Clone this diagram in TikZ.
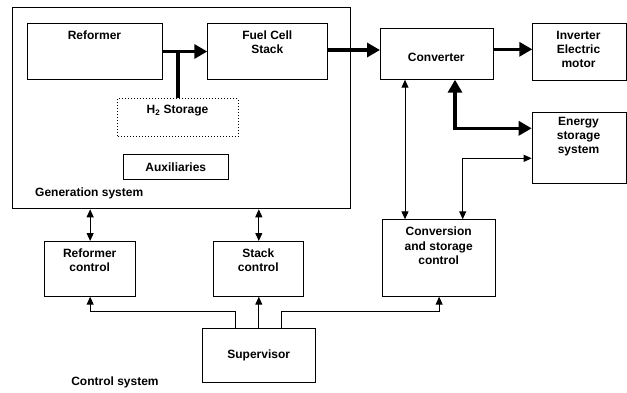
\documentclass[tikz,border=0pt]{standalone}
\usepackage{fontspec}
\setmainfont{Liberation Sans}
\usetikzlibrary{arrows.meta}
\tikzset{
  box/.style={draw, line width=1pt, inner sep=0pt, anchor=north west},
  dotbox/.style={draw, dotted, line width=1pt, inner sep=0pt, anchor=north west},
  txt/.style={inner sep=0pt, align=center, font=\fontsize{12}{14.3}\selectfont\bfseries},
  sigboth/.style={line width=1pt, {Triangle[length=8pt,width=7pt]}-{Triangle[length=8pt,width=7pt]}},
  sigto/.style={line width=1pt, -{Triangle[length=8pt,width=7pt]}},
  fat/.style={line width=3.2pt, -{Triangle[length=13pt,width=14pt]}},
  fatd/.style={line width=3.2pt, {Triangle[length=13pt,width=14pt]}-{Triangle[length=13pt,width=14pt]}},
}
\begin{document}
\begin{tikzpicture}[x=1pt,y=-1pt]
\useasboundingbox (0,0) rectangle (627,392);
% generation system
\node[box, minimum width=338pt, minimum height=201.5pt] (gen) at (12.3,6.8) {};
\node[box, minimum width=135.6pt, minimum height=55.4pt] (ref) at (26.7,23.3) {};
\node[box, minimum width=120pt, minimum height=55.4pt] (fcs) at (207.3,23.3) {};
\node[dotbox, minimum width=120.4pt, minimum height=37.7pt] (h2) at (117.3,98.3) {};
\node[box, minimum width=105pt, minimum height=25pt] (aux) at (123.3,154.3) {};
\node[txt] (ref-t) at (94.5,35) {Reformer};
\node[txt] (fcs-t) at (267.3,42.2) {Fuel Cell\\Stack};
\node[txt] (h2-t) at (177.5,110.5) {H\textsubscript{2} Storage};
\node[txt] (aux-t) at (175.8,166.8) {Auxiliaries};
\node[txt, anchor=west] (gen-t) at (35,193.5) {Generation system};
% power side
\node[box, minimum width=112.7pt, minimum height=50.4pt] (conv) at (380,28.3) {};
\node[box, minimum width=94pt, minimum height=56.7pt] (inv) at (532.3,23.3) {};
\node[box, minimum width=94.3pt, minimum height=71.6pt] (es) at (531.7,111.7) {};
\node[txt] (conv-t) at (436.3,57.3) {Converter};
\node[txt] (inv-t) at (578.5,49.3) {Inverter\\Electric\\motor};
\node[txt] (es-t) at (578.5,136.8) {Energy\\storage\\system};
% control
\node[box, minimum width=90.7pt, minimum height=54.7pt] (rc) at (44.3,241) {};
\node[box, minimum width=90pt, minimum height=54.7pt] (sc) at (213.3,241) {};
\node[box, minimum width=112.7pt, minimum height=76.4pt] (csc) at (382.3,219.3) {};
\node[box, minimum width=112.7pt, minimum height=54.6pt] (sup) at (202.3,327.7) {};
\node[txt] (rc-t) at (89.7,260) {Reformer\\control};
\node[txt] (sc-t) at (258.3,260) {Stack\\control};
\node[txt] (csc-t) at (438.7,246) {Conversion\\and storage\\control};
\node[txt] (sup-t) at (258.7,355.7) {Supervisor};
\node[txt] (ctl-t) at (115,382.7) {Control system};
% thick power flows
\draw[fat] (ref.east) -- (fcs.west);
\draw[line width=3.2pt] (h2.north) -- (h2.north |- ref.east);
\coordinate (p1) at (0,50);
\draw[fat] (fcs.east |- p1) -- (conv.west |- p1);
\coordinate (p2) at (0,49.3);
\draw[fat] (494,49.3) coordinate (p2s) -- (inv.west |- p2);
\coordinate (c1) at (455,128.3);
\draw[fatd] (c1 |- conv.south) -- (c1) -- (c1 -| es.west);
% signal lines
\coordinate (c2) at (462.7,158.3);
\draw[sigboth] (c2 -| es.west) -- (c2) -- (c2 |- csc.north);
\coordinate (c3) at (405,0);
\draw[sigboth] (c3 |- conv.south) -- (c3 |- csc.north);
\draw[sigboth] (rc.north |- gen.south) -- (rc.north);
\draw[sigboth] (sc.north |- gen.south) -- (sc.north);
\coordinate (s1) at (235.7,311);
\coordinate (s2) at (281,311);
\draw[sigto] (s1 |- sup.north) -- (s1) -- (s1 -| rc.south) -- (rc.south);
\draw[sigto] (sup.north -| sc.south) -- (sc.south);
\draw[sigto] (s2 |- sup.north) -- (s2) -- (s2 -| csc.south) -- (csc.south);
\end{tikzpicture}
\end{document}
